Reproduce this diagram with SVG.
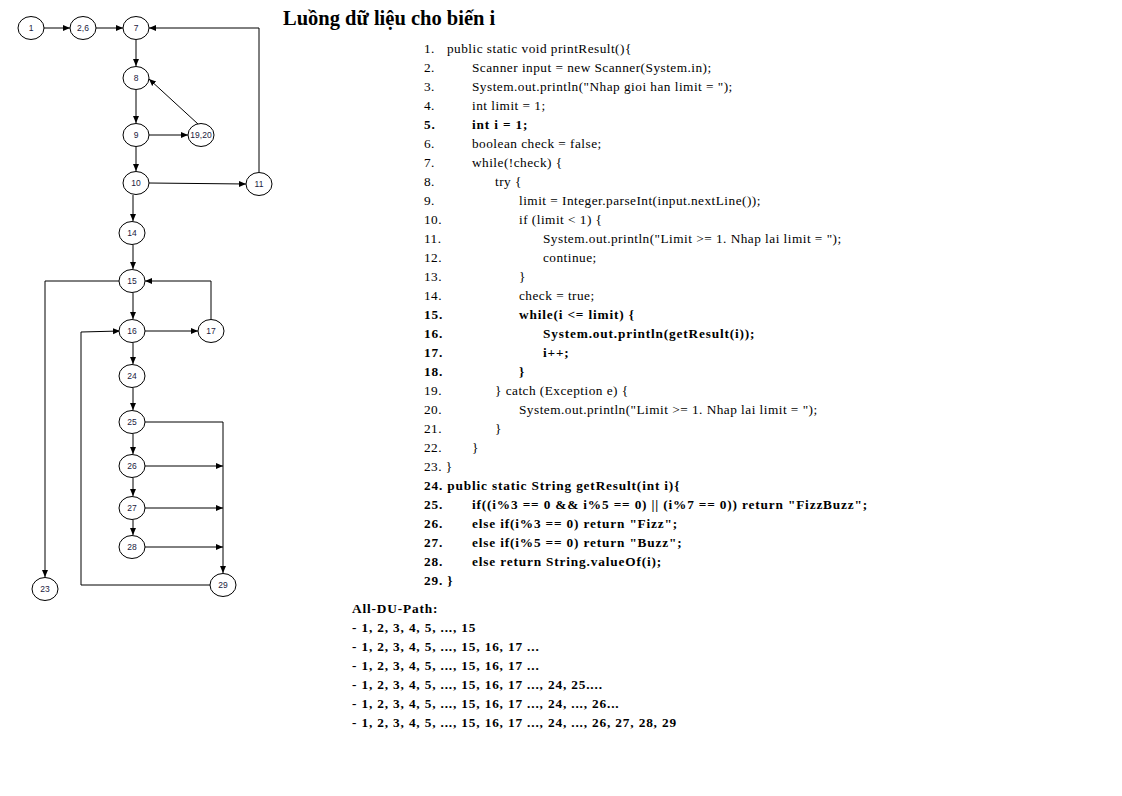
<svg xmlns="http://www.w3.org/2000/svg" width="1122" height="796" viewBox="0 0 1122 796">
<style>
.n ellipse{fill:#fff;stroke:#000;stroke-width:1}
.n text{font-family:"Liberation Sans",Arial,sans-serif;font-size:8.5px;fill:#1a1a40;text-anchor:middle}
.e path{fill:none;stroke:#000;stroke-width:1;marker-end:url(#ah)}
.c{font-family:"Liberation Serif","Times New Roman",serif;font-size:13.3px;fill:#000;letter-spacing:0.47px}
.b{font-weight:bold;letter-spacing:0.84px}
.t{font-family:"Liberation Serif","Times New Roman",serif;font-size:20.5px;font-weight:bold;fill:#000}
</style>
<defs>
<marker id="ah" markerWidth="8" markerHeight="8" refX="7" refY="4" orient="auto" markerUnits="userSpaceOnUse">
<path d="M0,1 L7,4 L0,7 Z" fill="#000"/>
</marker>
</defs>
<rect width="1122" height="796" fill="#fff"/>
<g id="connectors" class="e">
<path d="M44,28 L70,28"/>
<path d="M96,28 L123,28"/>
<path d="M136,40 L136,66"/>
<path d="M136,90 L136,123"/>
<path d="M149,135 L188,135"/>
<path d="M198,124 L149,79"/>
<path d="M136,147 L136,171"/>
<path d="M149,183 L246,184"/>
<path d="M259,172 L259,28 L149,28"/>
<path d="M133,195 L133,221"/>
<path d="M133,245 L133,269"/>
<path d="M133,293 L133,319"/>
<path d="M145,331 L198,331"/>
<path d="M211,319 L211,281 L145,281"/>
<path d="M119,281 L45,281 L45,577"/>
<path d="M133,343 L133,364"/>
<path d="M133,388 L133,410"/>
<path d="M133,434 L133,454"/>
<path d="M133,478 L133,496"/>
<path d="M133,520 L133,535"/>
<path d="M145,422 L223,422 L223,573"/>
<path d="M145,466 L223,466"/>
<path d="M145,508 L223,508"/>
<path d="M145,547 L223,547"/>
<path d="M210,585 L81,585 L81,332 L120,331"/>
</g>
<g id="n1" class="n"><ellipse cx="31" cy="28" rx="13" ry="11.5"/><text x="31" y="31">1</text></g>
<g id="n26a" class="n"><ellipse cx="83" cy="28" rx="13" ry="11.5"/><text x="83" y="31">2,6</text></g>
<g id="n7" class="n"><ellipse cx="136" cy="28" rx="13" ry="11.5"/><text x="136" y="31">7</text></g>
<g id="n8" class="n"><ellipse cx="136" cy="78" rx="13" ry="11.5"/><text x="136" y="81">8</text></g>
<g id="n9" class="n"><ellipse cx="136" cy="135" rx="13" ry="11.5"/><text x="136" y="138">9</text></g>
<g id="n1920" class="n"><ellipse cx="201" cy="135" rx="13" ry="11.5"/><text x="201" y="138">19,20</text></g>
<g id="n10" class="n"><ellipse cx="136" cy="183" rx="13" ry="11.5"/><text x="136" y="186">10</text></g>
<g id="n11" class="n"><ellipse cx="259" cy="184" rx="13" ry="11.5"/><text x="259" y="187">11</text></g>
<g id="n14" class="n"><ellipse cx="132" cy="233" rx="13" ry="11.5"/><text x="132" y="236">14</text></g>
<g id="n15" class="n"><ellipse cx="132" cy="281" rx="13" ry="11.5"/><text x="132" y="284">15</text></g>
<g id="n16" class="n"><ellipse cx="132" cy="331" rx="13" ry="11.5"/><text x="132" y="334">16</text></g>
<g id="n17" class="n"><ellipse cx="211" cy="331" rx="13" ry="11.5"/><text x="211" y="334">17</text></g>
<g id="n24" class="n"><ellipse cx="132" cy="376" rx="13" ry="11.5"/><text x="132" y="379">24</text></g>
<g id="n25" class="n"><ellipse cx="132" cy="422" rx="13" ry="11.5"/><text x="132" y="425">25</text></g>
<g id="n26" class="n"><ellipse cx="132" cy="466" rx="13" ry="11.5"/><text x="132" y="469">26</text></g>
<g id="n27" class="n"><ellipse cx="132" cy="508" rx="13" ry="11.5"/><text x="132" y="511">27</text></g>
<g id="n28" class="n"><ellipse cx="132" cy="547" rx="13" ry="11.5"/><text x="132" y="550">28</text></g>
<g id="n29" class="n"><ellipse cx="223" cy="585" rx="13" ry="11.5"/><text x="223" y="588">29</text></g>
<g id="n23" class="n"><ellipse cx="45" cy="589" rx="13" ry="11.5"/><text x="45" y="592">23</text></g>
<g id="title"><text x="283" y="25" class="t">Luồng dữ liệu cho biến i</text></g>
<g id="code" class="c">
<text x="424" y="52.5">1.</text><text x="447" y="52.5">public static void printResult(){</text>
<text x="424" y="71.5">2.</text><text x="472" y="71.5">Scanner input = new Scanner(System.in);</text>
<text x="424" y="90.5">3.</text><text x="472" y="90.5">System.out.println("Nhap gioi han limit = ");</text>
<text x="424" y="109.5">4.</text><text x="472" y="109.5">int limit = 1;</text>
<text x="424" y="128.5" class="b">5.</text><text x="472" y="128.5" class="b">int i = 1;</text>
<text x="424" y="147.5">6.</text><text x="472" y="147.5">boolean check = false;</text>
<text x="424" y="166.5">7.</text><text x="472" y="166.5">while(!check) {</text>
<text x="424" y="185.5">8.</text><text x="495" y="185.5">try {</text>
<text x="424" y="204.5">9.</text><text x="519" y="204.5">limit = Integer.parseInt(input.nextLine());</text>
<text x="424" y="223.5">10.</text><text x="519" y="223.5">if (limit &lt; 1) {</text>
<text x="424" y="242.5">11.</text><text x="543" y="242.5">System.out.println("Limit &gt;= 1. Nhap lai limit = ");</text>
<text x="424" y="261.5">12.</text><text x="543" y="261.5">continue;</text>
<text x="424" y="280.5">13.</text><text x="519" y="280.5">}</text>
<text x="424" y="299.5">14.</text><text x="519" y="299.5">check = true;</text>
<text x="424" y="318.5" class="b">15.</text><text x="519" y="318.5" class="b">while(i &lt;= limit) {</text>
<text x="424" y="337.5" class="b">16.</text><text x="543" y="337.5" class="b">System.out.println(getResult(i));</text>
<text x="424" y="356.5" class="b">17.</text><text x="543" y="356.5" class="b">i++;</text>
<text x="424" y="375.5" class="b">18.</text><text x="519" y="375.5" class="b">}</text>
<text x="424" y="394.5">19.</text><text x="495" y="394.5">} catch (Exception e) {</text>
<text x="424" y="413.5">20.</text><text x="519" y="413.5">System.out.println("Limit &gt;= 1. Nhap lai limit = ");</text>
<text x="424" y="432.5">21.</text><text x="495" y="432.5">}</text>
<text x="424" y="451.5">22.</text><text x="472" y="451.5">}</text>
<text x="424" y="470.5">23. }</text>
<text x="424" y="489.5" class="b">24. public static String getResult(int i){</text>
<text x="424" y="508.5" class="b">25.</text><text x="472" y="508.5" class="b">if((i%3 == 0 &amp;&amp; i%5 == 0) || (i%7 == 0)) return "FizzBuzz";</text>
<text x="424" y="527.5" class="b">26.</text><text x="472" y="527.5" class="b">else if(i%3 == 0) return "Fizz";</text>
<text x="424" y="546.5" class="b">27.</text><text x="472" y="546.5" class="b">else if(i%5 == 0) return "Buzz";</text>
<text x="424" y="565.5" class="b">28.</text><text x="472" y="565.5" class="b">else return String.valueOf(i);</text>
<text x="424" y="584.5" class="b">29. }</text>
</g>
<g id="dupaths" class="c b">
<text x="352" y="613">All-DU-Path:</text>
<text x="352" y="632">- 1, 2, 3, 4, 5, ..., 15</text>
<text x="352" y="651">- 1, 2, 3, 4, 5, ..., 15, 16, 17 ...</text>
<text x="352" y="670">- 1, 2, 3, 4, 5, ..., 15, 16, 17 ...</text>
<text x="352" y="689">- 1, 2, 3, 4, 5, ..., 15, 16, 17 ..., 24, 25....</text>
<text x="352" y="708">- 1, 2, 3, 4, 5, ..., 15, 16, 17 ..., 24, ..., 26...</text>
<text x="352" y="727">- 1, 2, 3, 4, 5, ..., 15, 16, 17 ..., 24, ..., 26, 27, 28, 29</text>
</g>
</svg>
